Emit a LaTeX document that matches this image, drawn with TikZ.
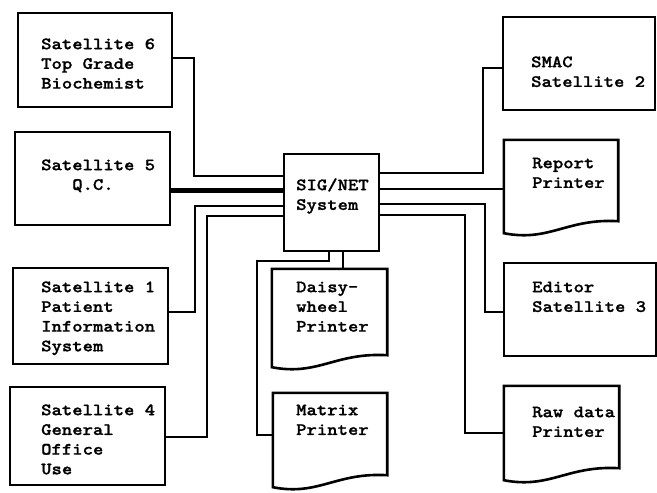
\documentclass[tikz,border=0pt]{standalone}
\usepackage{fontspec}
\newfontfamily\diagfont{lmmonolt10-bold}[Extension=.otf, FakeStretch=1.14, FakeBold=1.1]
\usetikzlibrary{calc}
\newcommand\docoutline[1]{%
  \draw[boxline] (#1.south west) -- (#1.north west) -- (#1.north east) -- ([yshift=12pt]#1.south east)
    .. controls ($(#1.south west)!0.55!(#1.south east)+(0,15pt)$) and ($(#1.south west)!0.4!(#1.south east)+(0,-9pt)$) .. (#1.south west) -- cycle;}
\newcommand\strt{\rule{0pt}{13pt}}
\begin{document}
\begin{tikzpicture}[x=1pt,y=-1pt,
  boxline/.style={line width=2.6pt, line join=miter},
  box/.style={draw, boxline, rectangle, inner sep=0pt},
  docarea/.style={rectangle, inner sep=0pt},
  wire/.style={line width=2.6pt},
  heavywire/.style={line width=5pt},
  txt/.style={font=\diagfont\fontsize{17.3}{19.7}\selectfont, inner sep=0pt, anchor=north west, align=left}]
\useasboundingbox (0,0) rectangle (657,493);

% rectangles
\node[box, minimum width=154pt, minimum height=94pt] (s6) at (95,60) {};
\node[box, minimum width=155pt, minimum height=93pt] (s5) at (92.5,178.5) {};
\node[box, minimum width=155pt, minimum height=96pt] (s1) at (90.5,316) {};
\node[box, minimum width=155pt, minimum height=98pt] (s4) at (87.5,436) {};
\node[box, minimum width=95pt, minimum height=97pt] (sig) at (331.5,202.5) {};
\node[box, minimum width=152pt, minimum height=93pt] (s2) at (579,63.5) {};
\node[box, minimum width=152pt, minimum height=93pt] (s3) at (580,309.5) {};

% printers (document shapes)
\node[docarea, minimum width=114pt, minimum height=93pt] (rep) at (561,186.5) {};
\node[docarea, minimum width=115pt, minimum height=98pt] (daisy) at (329.5,318) {};
\node[docarea, minimum width=114pt, minimum height=94pt] (mat) at (330,440) {};
\node[docarea, minimum width=115pt, minimum height=94pt] (raw) at (561.5,433) {};
\docoutline{rep}
\docoutline{daisy}
\docoutline{mat}
\docoutline{raw}

% texts
\node[txt] (s6t) at (41,36) {\strt Satellite 6\\Top Grade\\Biochemist};
\node[txt] (s5t) at (41,157) {\strt Satellite 5\\\phantom{Sat}Q.C.};
\node[txt] (s1t) at (41,279) {\strt Satellite 1\\Patient\\Information\\System};
\node[txt] (s4t) at (41,402) {\strt Satellite 4\\General\\Office\\Use};
\node[txt] (sigt) at (296,177) {\strt SIG/NET\\System};
\node[txt] (s2t) at (531,54) {\strt SMAC\\Satellite 2};
\node[txt] (rept) at (532,155) {\strt Report\\Printer};
\node[txt] (daisyt) at (296,279) {\strt Daisy-\\wheel\\Printer};
\node[txt] (matt) at (296,402) {\strt Matrix\\Printer};
\node[txt] (s3t) at (532,279) {\strt Editor\\Satellite 3};
\node[txt] (rawt) at (532,404) {\strt Raw data\\Printer};

% connectors, left side
\draw[wire] (s6.east |- 0,58) -| (194,176) -- (sig.west |- 0,176);
\draw[heavywire] (s5.east |- 0,190) -- (sig.west |- 0,190);
\draw[wire] (sig.west |- 0,206) -| (195,312) -- (s1.east |- 0,312);
\draw[wire] (sig.west |- 0,216) -| (207,437) -- (s4.east |- 0,437);
% right side
\draw[wire] (sig.east |- 0,173) -| (483,68) -- (s2.west |- 0,68);
\draw[wire] (sig.east |- 0,189) -- (rep.west |- 0,189);
\draw[wire] (sig.east |- 0,204) -| (485,312) -- (s3.west |- 0,312);
\draw[wire] (sig.east |- 0,215) -| (465,433) -- (raw.west |- 0,433);
% bottom
\draw[wire] (sig.south -| 343,0) -- (daisy.north -| 343,0);
\draw[wire] (sig.south -| 329,0) |- (257,261) |- (mat.west |- 0,435);
\end{tikzpicture}
\end{document}
